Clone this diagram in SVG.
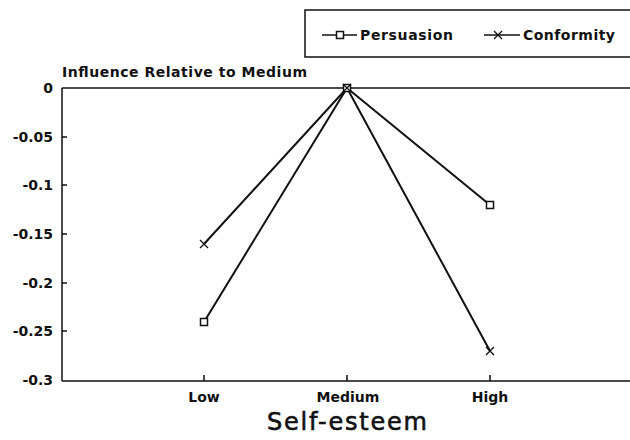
<svg xmlns="http://www.w3.org/2000/svg" width="630" height="440" viewBox="0 0 630 440">
<style>
.t{font-family:"DejaVu Sans",sans-serif;font-weight:bold;font-size:14px;fill:#111}
.ax{stroke:#111;stroke-width:1.5;fill:none}
.ln{stroke:#111;stroke-width:2;fill:none}
.sq{stroke:#111;stroke-width:1.5;fill:#fff}
.xm{stroke:#111;stroke-width:1.3;fill:none}
</style>
<defs>
<rect id="sqm" x="-3.5" y="-3.5" width="7" height="7" class="sq"/>
<path id="xmm" d="M-4,-4L4,4M-4,4L4,-4" class="xm"/>
</defs>
<rect width="630" height="440" fill="#fff"/>
<g id="legend">
<path d="M305,10H632V57H305Z" class="ax"/>
<line x1="322" y1="35" x2="357" y2="35" class="ax"/>
<use href="#sqm" x="340" y="35"/>
<text x="360" y="40" class="t" font-size="15" textLength="93">Persuasion</text>
<line x1="484" y1="35" x2="520" y2="35" class="ax"/>
<use href="#xmm" x="498" y="35"/>
<text x="523" y="40" class="t" font-size="15" textLength="92">Conformity</text>
</g>
<g id="axes">
<path d="M62,88V381M62,88H630M62,381H630" class="ax"/>
<path d="M62,137H67M62,185H67M62,234H67M62,283H67M62,331H67M204,381V375M347,381V375M490,381V375" class="ax"/>
<text x="62" y="77" class="t" font-size="12.5" textLength="245">Influence Relative to Medium</text>
<g class="t" font-size="14.5" text-anchor="end">
<text x="53" y="93">0</text>
<text x="53" y="142">-0.05</text>
<text x="53" y="190">-0.1</text>
<text x="53" y="239">-0.15</text>
<text x="53" y="288">-0.2</text>
<text x="53" y="336">-0.25</text>
<text x="53" y="385">-0.3</text>
</g>
<g class="t" text-anchor="middle">
<text x="204" y="402">Low</text>
<text x="348" y="402">Medium</text>
<text x="490" y="402">High</text>
</g>
<text x="347" y="430" text-anchor="middle" font-family="'DejaVu Sans',sans-serif" font-size="24" fill="#111" stroke="#111" stroke-width="0.6" textLength="160">Self-esteem</text>
</g>
<g id="connectors">
<polyline points="204,322 347,88 490,205" class="ln"/>
<polyline points="204,244 347,88 490,351" class="ln"/>
</g>
<g id="persuasion">
<use href="#sqm" x="204" y="322"/>
<use href="#sqm" x="347" y="88"/>
<use href="#sqm" x="490" y="205"/>
</g>
<g id="conformity">
<use href="#xmm" x="204" y="244"/>
<use href="#xmm" x="347" y="88"/>
<use href="#xmm" x="490" y="351"/>
</g>
</svg>
